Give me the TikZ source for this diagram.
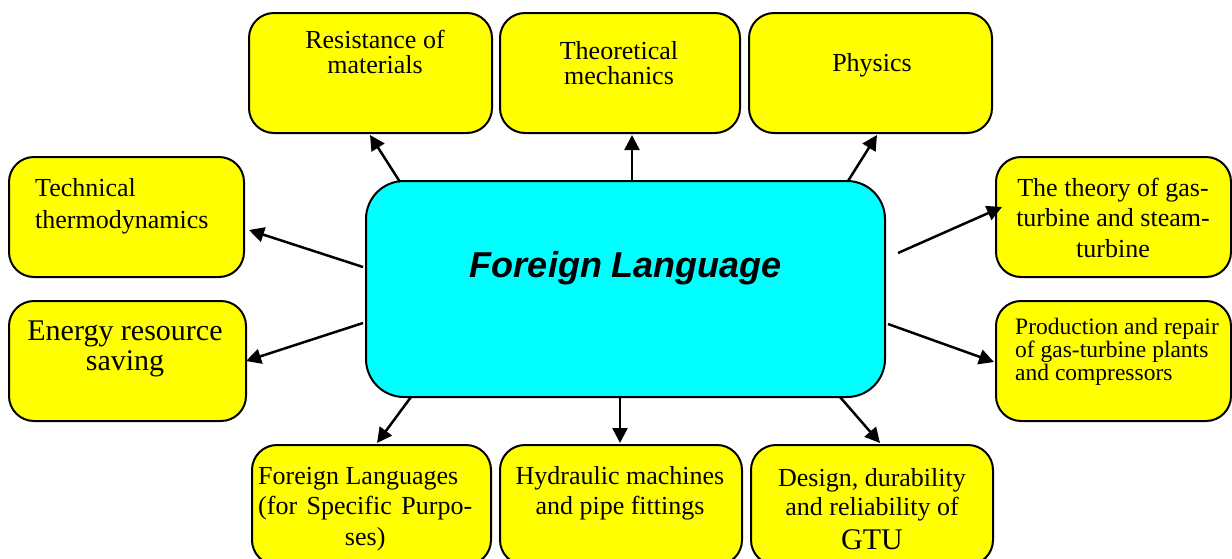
\documentclass[tikz,border=0pt]{standalone}
\usepackage{fontspec}
\setmainfont{Liberation Serif}
\newfontfamily\labelsans{Liberation Sans}
\usetikzlibrary{arrows.meta}
\definecolor{boxyellow}{RGB}{255,255,0}
\definecolor{boxcyan}{RGB}{0,255,255}
\begin{document}
\begin{tikzpicture}[x=1pt,y=-1pt,
  box/.style={draw=black, line width=2pt, fill=boxyellow, rounded corners=25pt, inner sep=0pt, anchor=north west},
  cbox/.style={draw=black, line width=2pt, fill=boxcyan, rounded corners=38pt, inner sep=0pt, anchor=north west},
  txt/.style={inner sep=0pt, font=\fontsize{26}{25.5}\selectfont},
  arr/.style={line width=2.5pt, -{Triangle[length=15pt,width=15pt]}}]
\useasboundingbox (0,0) rectangle (1232,558);
% boxes
\node[box, minimum width=243pt, minimum height=120pt] (res) at (248,12) {};
\node[box, minimum width=240pt, minimum height=120pt] (theo) at (499,12) {};
\node[box, minimum width=243pt, minimum height=120pt] (phys) at (748,12) {};
\node[box, minimum width=235pt, minimum height=120pt] (tech) at (8,156) {};
\node[box, minimum width=237pt, minimum height=120pt] (ener) at (8,300) {};
\node[box, minimum width=235pt, minimum height=120pt] (gast) at (995,156) {};
\node[box, minimum width=235pt, minimum height=120pt] (prod) at (995,300) {};
\node[box, minimum width=239pt, minimum height=120pt] (fls) at (251,444) {};
\node[box, minimum width=242pt, minimum height=120pt] (hydr) at (499,444) {};
\node[box, minimum width=242pt, minimum height=120pt] (desg) at (750,444) {};
\node[cbox, minimum width=519pt, minimum height=216pt] (fl) at (365,180) {};
% texts (base = baseline of the last line)
\node[txt, anchor=base, align=center] (rest) at (375,73.5) {Resistance of\\materials};
\node[txt, anchor=base, align=center] (theot) at (619,84.5) {Theoretical\\mechanics};
\node[txt, anchor=base, align=center] (physt) at (872,71) {Physics};
\node[txt, anchor=base west, align=left, font=\fontsize{26}{32}\selectfont] (techt) at (35,228) {Technical\\thermodynamics};
\node[txt, anchor=base, align=center, font=\fontsize{30}{30}\selectfont] (enert) at (125,370) {Energy resource\\saving};
\node[txt, anchor=base, align=center, font=\fontsize{26}{30.5}\selectfont] (gastt) at (1113,257) {The theory of gas-\\turbine and steam-\\turbine};
\node[txt, anchor=base west, align=left, font=\fontsize{23.5}{23}\selectfont] (prodt) at (1015,380) {Production and repair\\of gas-turbine plants\\and compressors};
\node[txt, anchor=base west, align=left, font=\fontsize{26}{30.5}\selectfont] (flst) at (258,545) {Foreign Languages\\\makebox[214pt][s]{(for Specific Purpo-}\\\makebox[214pt][c]{ses)}};
\node[txt, anchor=base, align=center, font=\fontsize{26}{30}\selectfont] (hydrt) at (620,514) {Hydraulic machines\\and pipe fittings};
\node[txt, anchor=base, align=center, font=\fontsize{26}{29.5}\selectfont] (desgt) at (872,549) {Design, durability\\and reliability of\\[4pt]{\fontsize{30}{30}\selectfont GTU}};
\node[inner sep=0pt, anchor=base, font=\labelsans\bfseries\itshape\fontsize{36}{40}\selectfont] (flt) at (626,277) {Foreign Language};
% arrow end points
\coordinate (a1s) at (400,182); \coordinate (a1e) at (370,135);
\coordinate (a2s) at (632,181); \coordinate (a2e) at (632,135);
\coordinate (a3s) at (848,181); \coordinate (a3e) at (877,135);
\coordinate (a4s) at (363,267); \coordinate (a4e) at (249,230);
\coordinate (a5s) at (363,323); \coordinate (a5e) at (246,361);
\coordinate (a6s) at (898,253); \coordinate (a6e) at (1002,207);
\coordinate (a7s) at (888,324); \coordinate (a7e) at (994,362);
\coordinate (a8s) at (411,397); \coordinate (a8e) at (377,443);
\coordinate (a9s) at (620,397); \coordinate (a9e) at (620,443);
\coordinate (a10s) at (840,397); \coordinate (a10e) at (880,443);
\draw[arr] (a1s) -- (a1e);
\draw[arr] (a2s) -- (a2e);
\draw[arr] (a3s) -- (a3e);
\draw[arr] (a4s) -- (a4e);
\draw[arr] (a5s) -- (a5e);
\draw[arr] (a6s) -- (a6e);
\draw[arr] (a7s) -- (a7e);
\draw[arr] (a8s) -- (a8e);
\draw[arr] (a9s) -- (a9e);
\draw[arr] (a10s) -- (a10e);
\end{tikzpicture}
\end{document}
